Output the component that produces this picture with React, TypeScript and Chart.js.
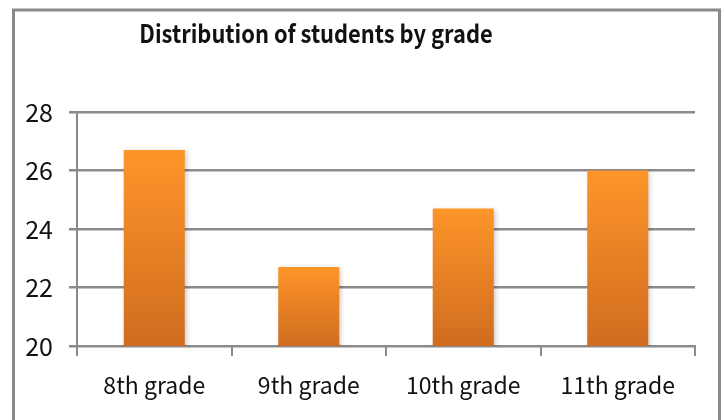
import React, { useEffect, useRef } from "react";
import { Chart, registerables } from "chart.js";

Chart.register(...registerables);

const categories = ["8th grade", "9th grade", "10th grade", "11th grade"];
const students = [26.7, 22.7, 24.7, 26];
const yTicks = [20, 22, 24, 26, 28];
const chartTitle = "Distribution of students by grade";

const FONT = '"Noto Sans CJK SC", "Liberation Sans Narrow", "DejaVu Sans Condensed", sans-serif';
const GRAY = "#8a8a8a";

// Frame open at the bottom, plus the title placed over the plot
const framePlugin = {
  id: "frame",
  beforeDraw(chart: any) {
    const { ctx } = chart;
    ctx.save();
    ctx.fillStyle = "#ffffff";
    ctx.fillRect(0, 0, chart.width, chart.height);
    ctx.strokeStyle = GRAY;
    ctx.lineWidth = 3;
    ctx.beginPath();
    ctx.moveTo(13.5, chart.height + 5);
    ctx.lineTo(13.5, 10);
    ctx.lineTo(719.5, 10);
    ctx.lineTo(719.5, chart.height + 5);
    ctx.stroke();
    // condensed bold title centred at x = 316
    ctx.translate(316, 43);
    ctx.scale(0.875, 1);
    ctx.fillStyle = "#111111";
    ctx.font = `bold 25px ${FONT}`;
    ctx.textAlign = "center";
    ctx.textBaseline = "alphabetic";
    ctx.fillText(chartTitle, 0, 0);
    ctx.restore();
  },
};

// Soft drop shadow behind the bars
const shadowPlugin = {
  id: "barShadow",
  beforeDatasetsDraw(chart: any) {
    const { ctx } = chart;
    ctx.save();
    ctx.shadowColor = "rgba(0,0,0,0.22)";
    ctx.shadowBlur = 5;
    ctx.shadowOffsetX = 2;
    ctx.shadowOffsetY = 1;
  },
  afterDatasetsDraw(chart: any) {
    chart.ctx.restore();
  },
};

function barGradient(context: any) {
  const chart = context.chart;
  const { chartArea, scales } = chart;
  if (!chartArea || !scales.y) return "#f08a26";
  const v = context.raw as number;
  const top = scales.y.getPixelForValue(v);
  const bottom = scales.y.getPixelForValue(yTicks[0]);
  if (!isFinite(top) || !isFinite(bottom)) return "#f08a26";
  const g = chart.ctx.createLinearGradient(0, top, 0, bottom);
  g.addColorStop(0, "#fe952a");
  g.addColorStop(1, "#d06c1f");
  return g;
}

export default function App() {
  const ref = useRef<HTMLCanvasElement | null>(null);

  useEffect(() => {
    document.body.style.margin = "0";
    if (!ref.current) return;
    const chart = new Chart(ref.current, {
      type: "bar",
      data: {
        labels: categories,
        datasets: [
          {
            data: students,
            backgroundColor: barGradient,
            borderWidth: 0,
            categoryPercentage: 1,
            barPercentage: 0.395,
          },
        ],
      },
      plugins: [framePlugin, shadowPlugin],
      options: {
        animation: false,
        responsive: false,
        devicePixelRatio: 1,
        layout: { padding: { top: 112, right: 29, left: 0, bottom: 0 } },
        plugins: {
          legend: { display: false },
          title: { display: false },
          tooltip: { enabled: false },
        },
        scales: {
          x: {
            offset: true,
            grid: {
              offset: true,
              drawOnChartArea: false,
              drawTicks: true,
              tickLength: 10,
              color: GRAY,
              lineWidth: 2,
            },
            border: { display: true, color: GRAY, width: 2 },
            ticks: {
              color: "#111111",
              font: { family: FONT, size: 23 },
              padding: 15,
              maxRotation: 0,
            },
            afterFit(scale: any) {
              scale.height = 74;
            },
          },
          y: {
            min: 20,
            max: 28,
            afterBuildTicks(scale: any) {
              scale.ticks = yTicks.map((v) => ({ value: v }));
            },
            grid: {
              color: GRAY,
              lineWidth: 2.5,
              tickLength: 8,
              drawTicks: true,
            },
            border: { display: true, color: GRAY, width: 2 },
            ticks: {
              color: "#111111",
              font: { family: FONT, size: 25 },
              padding: 16,
            },
            afterFit(scale: any) {
              scale.width = 77;
            },
          },
        },
      },
    });
    return () => chart.destroy();
  }, []);

  return (
    <div style={{ width: 724, height: 420 }}>
      <canvas ref={ref} width={724} height={420} style={{ display: "block" }} />
    </div>
  );
}
